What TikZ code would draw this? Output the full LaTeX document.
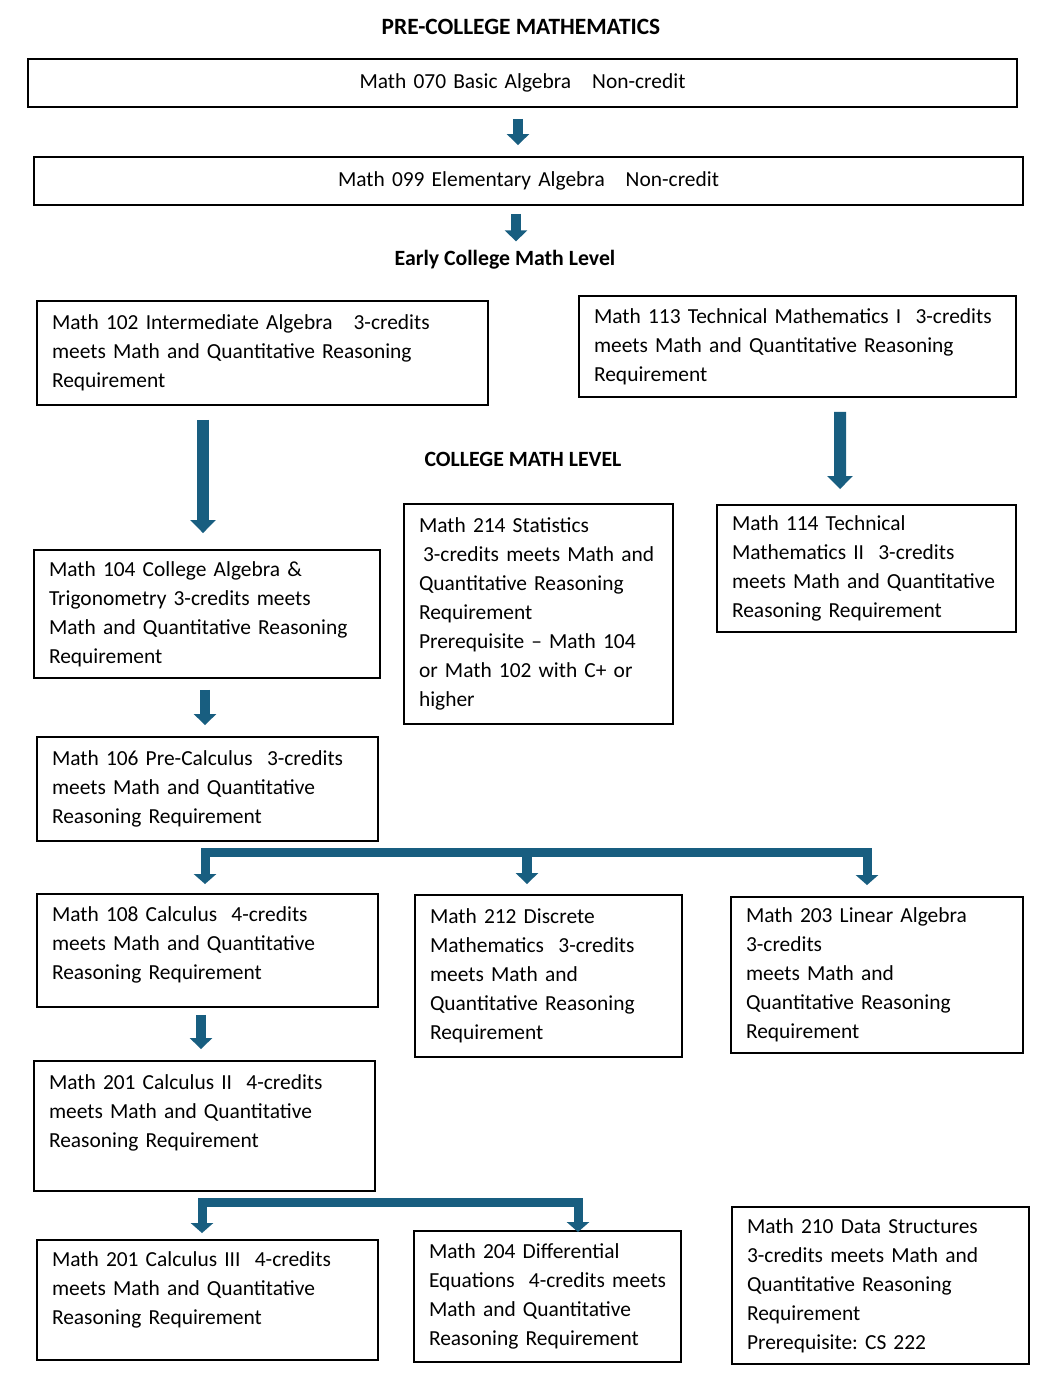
\documentclass[tikz,border=0pt]{standalone}
\usepackage{fontspec}
\setmainfont{Carlito}
\usetikzlibrary{positioning,calc,arrows.meta}
\definecolor{flowblue}{RGB}{24,94,128}
\frenchspacing

\tikzset{
  course/.style={draw, line width=1.1pt, align=left, inner xsep=0.3cm, inner ysep=0pt,
    font=\fontsize{12.2}{16.5}\selectfont,
    execute at begin node={\rightskip=0pt plus 2em minus 1.5cm\relax}},
  heading/.style={font=\fontsize{12.4}{16.5}\selectfont\bfseries, inner sep=0pt, anchor=base},
  flow/.style={draw=flowblue, line width=0.2cm, -{Triangle[width=0.44cm,length=0.22cm]}},
  bigflow/.style={draw=flowblue, line width=0.24cm, -{Triangle[width=0.5cm,length=0.26cm]}},
  fork/.style={draw=flowblue, line width=0.18cm,
    {Triangle[width=0.44cm,length=0.2cm]}-{Triangle[width=0.44cm,length=0.2cm]}},
}

\begin{document}
\begin{tikzpicture}[x=0.02cm, y=-0.02cm]
    \useasboundingbox (0,0) rectangle (1060,1379);

    % Pre-college
    \node[heading, font=\fontsize{13.3}{16.5}\selectfont\bfseries] (title) at (521,34)
        {PRE-COLLEGE MATHEMATICS};
    \node[course, align=center, text width=19.18cm, minimum height=0.96cm] (m070) at (522.5,83)
        {Math 070 Basic Algebra\hspace{0.42cm}Non-credit};
    \node[course, align=center, text width=19.18cm, minimum height=0.96cm] (m099) at (528.5,181)
        {Math 099 Elementary Algebra\hspace{0.42cm}Non-credit};
    \draw[flow] ($(m070.south)+(-4.5,11)$) -- ($(m099.north)+(-10.5,-11)$);

    % Early college
    \node[heading] (early) at (505,265) {Early College Math Level};
    \draw[flow] ($(m099.south)+(-12.5,8)$) -- ($(early.north)+(11,-8)$);
    \node[course, text width=8.42cm, minimum height=2.08cm] (m102) at (262.5,353)
        {Math 102 Intermediate Algebra\hspace{0.42cm}3-credits\\
         meets Math and Quantitative Reasoning\\ Requirement};
    \node[course, text width=8.14cm, minimum height=2.02cm] (m113) at (797.5,346.5)
        {Math 113 Technical Mathematics I~ 3-credits\\
         meets Math and Quantitative Reasoning\\ Requirement};

    % College level
    \node[heading] (college) at (523,466) {COLLEGE MATH LEVEL};
    \node[course, text width=6.32cm, minimum height=2.56cm] (m104) at (207,614)
        {Math 104 College Algebra \&\\ Trigonometry 3-credits meets\\
         Math and Quantitative Reasoning\\ Requirement};
    \node[course, text width=4.78cm, minimum height=4.40cm] (m214) at (538.5,614)
        {Math 214 Statistics\\ \hspace*{0.08cm}3-credits meets Math and\\
         Quantitative Reasoning\\ Requirement\\ Prerequisite -- Math 104\\
         or Math 102 with C+ or\\ higher};
    \node[course, text width=5.38cm, minimum height=2.54cm] (m114) at (866.5,568.5)
        {Math 114 Technical\\ Mathematics II~ 3-credits\\
         meets Math and Quantitative\\ Reasoning Requirement};
    \draw[bigflow] ($(m102.south)+(-59.5,14)$) -- ($(m104.north)+(-4,-16)$);
    \draw[bigflow] ($(m113.south)+(42.5,14)$) -- ($(m114.north)+(-26.5,-15)$);

    \node[course, text width=6.22cm, minimum height=2.08cm] (m106) at (207.5,789)
        {Math 106 Pre-Calculus~ 3-credits\\ meets Math and Quantitative\\
         Reasoning Requirement};
    \draw[flow] ($(m104.south)+(-2,11)$) -- ($(m106.north)+(-2.5,-11)$);

    % After pre-calculus
    \node[course, text width=6.22cm, minimum height=2.26cm] (m108) at (207.5,950.5)
        {Math 108 Calculus~ 4-credits\\ meets Math and Quantitative\\
         Reasoning Requirement\\[-0.28cm]\mbox{}};
    \node[course, text width=4.74cm, minimum height=3.24cm] (m212) at (548.5,976)
        {Math 212 Discrete\\ Mathematics~ 3-credits\\ meets Math and\\
         Quantitative Reasoning\\ Requirement};
    \node[course, text width=5.24cm, minimum height=3.12cm] (m203) at (877,975)
        {Math 203 Linear Algebra\\ 3-credits\\ meets Math and\\
         Quantitative Reasoning\\ Requirement};
    \coordinate (fork1) at ($(m106.south)+(0,11)$);
    \coordinate (mid1) at ($(m212.north)+(-21.5,-10)$);
    \draw[fork] ($(m108.north)+(-2.5,-9)$) |- (fork1) -| ($(m203.north)+(-10,-11)$);
    \draw[flow] (fork1 -| mid1) -- (mid1);

    % Calculus
    \node[course, text width=6.22cm, minimum height=2.60cm] (m201) at (204.5,1126)
        {Math 201 Calculus II~ 4-credits\\ meets Math and Quantitative\\
         Reasoning Requirement\\ \mbox{}};
    \draw[flow] ($(m108.south)+(-6.5,7)$) -- ($(m201.north)+(-3.5,-11)$);
    \node[course, text width=6.22cm, minimum height=2.40cm] (m201c) at (207.5,1300)
        {Math 201 Calculus III~ 4-credits\\ meets Math and Quantitative\\
         Reasoning Requirement\\[-0.1cm]\mbox{}};
    \node[course, text width=4.74cm, minimum height=2.62cm] (m204) at (547.5,1296.5)
        {Math 204 Differential\\ Equations~ 4-credits meets\\
         Math and Quantitative\\ Reasoning Requirement};
    \node[course, text width=5.34cm, minimum height=3.14cm] (m210) at (880.5,1285.5)
        {Math 210 Data Structures\\ 3-credits meets Math and\\
         Quantitative Reasoning\\ Requirement\\ Prerequisite: CS 222};
    \coordinate (fork2) at ($(m201.south)+(0,11)$);
    \draw[fork] ($(m201c.north)+(-5.5,-6)$) |- (fork2) -| ($(m204.north)+(30.5,2)$);
\end{tikzpicture}
\end{document}
